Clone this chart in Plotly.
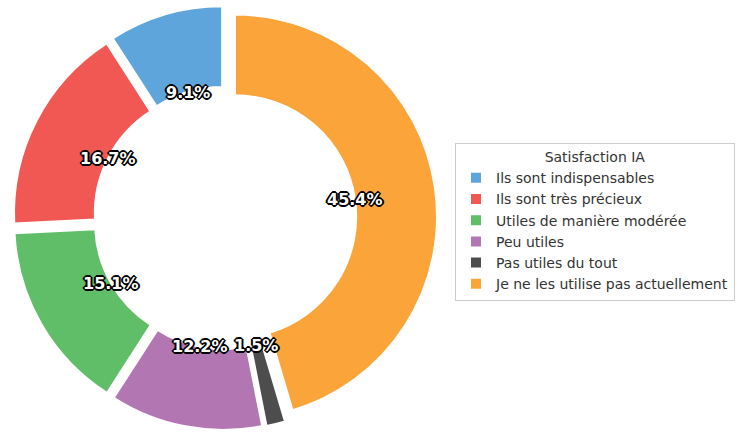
import math
import plotly.graph_objects as go

labels = ["Ils sont indispensables", "Ils sont très précieux", "Utiles de manière modérée",
          "Peu utiles", "Pas utiles du tout", "Je ne les utilise pas actuellement"]
values = [9.1, 16.7, 15.1, 12.2, 1.5, 45.4]
colors = ["#5DA5DA", "#F15854", "#60BD68", "#B276B2", "#4D4D4D", "#FAA43A"]
legend_title = "Satisfaction IA"

W, H = 739, 432
CX, CY, R = 225, 218, 202   # pie centre / radius in pixels
HOLE = 0.6
PULL = 0.05
LABEL_FRAC = 0.6

total = sum(values)
half = R * (1 + PULL)
dom_x = [max(0, (CX - half) / W), min(1, (CX + half) / W)]
dom_y = [max(0, 1 - (CY + half) / H), min(1, 1 - (CY - half) / H)]

fig = go.Figure(go.Pie(
    labels=labels, values=values, sort=False, direction="counterclockwise",
    rotation=-values[0] / total * 360,
    hole=HOLE, pull=[PULL] * len(values),
    marker=dict(colors=colors, line=dict(color="white", width=2)),
    textinfo="none", hoverinfo="label+percent",
    domain=dict(x=dom_x, y=dom_y),
))

outline = ",".join(f"{dx}px {dy}px 0 #000" for dx, dy in
                   [(-1, -1), (1, -1), (-1, 1), (1, 1), (0, 2), (0, -2), (2, 0), (-2, 0)])
cum = 0.0
annotations = []
for v in values:
    a = math.radians(90 + (cum + v / 2) / total * 360)
    cum += v
    r = (LABEL_FRAC + PULL) * R
    px = CX + r * math.cos(a)
    py = CY - r * math.sin(a)
    annotations.append(dict(
        x=px / W, y=1 - py / H, xref="paper", yref="paper", showarrow=False,
        xanchor="center", yanchor="middle",
        text=f"{v:.1f}%",
        font=dict(family="DejaVu Sans", size=16, color="white", weight="bold", shadow=outline),
    ))

fig.update_layout(
    width=W, height=H, margin=dict(l=0, r=0, t=0, b=0),
    paper_bgcolor="white", plot_bgcolor="white",
    font=dict(family="DejaVu Sans", size=14, color="#333333"),
    annotations=annotations,
    legend=dict(
        title=dict(text=legend_title, side="top center",
                   font=dict(family="DejaVu Sans", size=14, color="#333333")),
        x=455 / W, y=1 - 143 / H, xanchor="left", yanchor="top",
        bordercolor="#cccccc", borderwidth=1, bgcolor="white",
        font=dict(family="DejaVu Sans", size=14, color="#333333"),
    ),
)

fig.write_html("out.html", config={"displayModeBar": False},
               post_script="document.body.style.margin='0px';")
